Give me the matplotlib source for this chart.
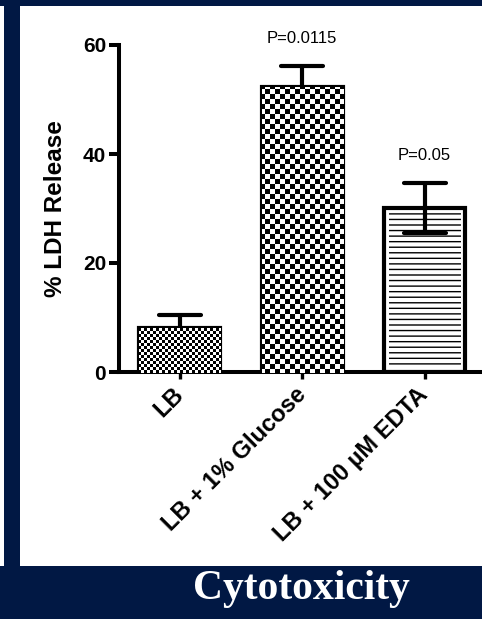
import numpy as np
import matplotlib
matplotlib.use("Agg")
import matplotlib.pyplot as plt
from matplotlib.patches import Rectangle
from matplotlib.markers import MarkerStyle

# ---- data ----
categories = ["LB", "LB + 1% Glucose", "LB + 100 µM EDTA"]
means = [8.0, 52.3, 30.1]
sems = [2.4, 3.9, 4.6]
p_labels = ["", "P=0.0115", "P=0.05"]
yticks = [0, 20, 40, 60]
title = "Cytotoxicity"
ylabel = "% LDH Release"

NAVY = "#011844"
W, H = 482, 619
DPI = 100

plt.rcParams["font.family"] = ["Liberation Sans", "DejaVu Sans"]

fig = plt.figure(figsize=(W / DPI, H / DPI), dpi=DPI)
fig.patch.set_facecolor("white")

def fr(x0, y0, x1, y1):
    # pixel rectangle (top-left origin) -> figure fraction rect
    return Rectangle((x0 / W, 1 - y1 / H), (x1 - x0) / W, (y1 - y0) / H,
                     transform=fig.transFigure, facecolor=NAVY, edgecolor="none", zorder=0)

fig.patches.extend([fr(0, 0, W, 6), fr(4, 0, 20, 566), fr(0, 566, W, H)])

# axes placement
ax_left = 118.5
cat0 = 179.8
step = 122.4
x_axis_y = 372
top_y = 45
right_px = 490
ax = fig.add_axes([ax_left / W, 1 - x_axis_y / H, (right_px - ax_left) / W, (x_axis_y - top_y) / H])
ax.set_facecolor("none")
ax.set_xlim(-(cat0 - ax_left) / step, (right_px - cat0) / step)
ax.set_ylim(0, 60)

x = np.arange(len(categories))
width = 0.665

# pattern fills
bars_fill = ax.bar(x, means, width=width, color="white", edgecolor="none", zorder=2)
bars_fill[2].set_hatch("---")
bars_fill[2].set_edgecolor("black")
bars_fill[2].set_linewidth(0)

yy, xx = np.mgrid[0:H, 0:W]
for idx, s in [(0, 3), (1, 5)]:
    chk = ((yy // s + xx // s) % 2).astype(float)
    rgba = np.zeros((H, W, 4))
    rgba[..., 0] = chk
    rgba[..., 1] = chk
    rgba[..., 2] = chk
    rgba[..., 3] = 1.0
    im = fig.figimage(rgba, 0, 0, zorder=3, origin="lower")
    im.set_clip_path(bars_fill[idx])

# white inner gap and black outline
ax.bar(x, means, width=width, fill=False, edgecolor="white", linewidth=6.5, zorder=4)
ax.bar(x, means, width=width, fill=False, edgecolor="black", linewidth=3.0, zorder=5,
       joinstyle="miter")

# error bars
eb = ax.errorbar(x, means, yerr=sems, fmt="none", ecolor="black", elinewidth=3.0,
                 capsize=15, capthick=3.0, zorder=6)
for cl in eb[1]:
    cl.set_marker(MarkerStyle("_", capstyle="round"))
    cl.set_markeredgewidth(3.0)
    cl.set_markersize(30)

# p-value annotations
for xi, m, s, lab in zip(x, means, sems, p_labels):
    if lab:
        ax.text(xi, m + s + 5.0, lab, ha="center", va="center", fontsize=12,
                clip_on=False, zorder=7)

# spines and ticks
for sp in ["top", "right"]:
    ax.spines[sp].set_visible(False)
for sp in ["left", "bottom"]:
    ax.spines[sp].set_linewidth(2.9)
    ax.spines[sp].set_zorder(8)
ax.spines["left"].set_bounds(0, 60)

ax.set_yticks(yticks)
ax.set_yticklabels([str(t) for t in yticks], fontsize=15, fontweight="bold")
ax.tick_params(axis="y", direction="out", length=7.5, width=2.9, pad=1.5)
ax.set_xticks(x)
ax.set_xticklabels(categories, fontsize=17, fontweight="bold", rotation=45,
                   ha="right", va="center", rotation_mode="anchor")
ax.tick_params(axis="x", direction="out", length=5, width=2.4, pad=9)

ax.set_ylabel(ylabel, fontsize=17.5, fontweight="bold", labelpad=11)

fig.text(301.5 / W, 1 - 599 / H, title, color="white", fontsize=30, fontweight="bold",
         family=["Liberation Serif", "DejaVu Serif"], ha="center", va="baseline")

fig.savefig("out.png", dpi=DPI)
